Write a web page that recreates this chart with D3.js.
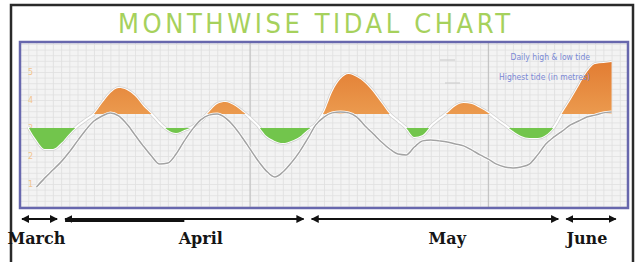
<!DOCTYPE html>
<html>
<head>
<meta charset="utf-8">
<script src="https://d3js.org/d3.v7.min.js"></script>
<style>
  body { margin: 0; background: #fff; }
  svg { display: block; }
</style>
</head>
<body>
<div id="chart"></div>
<script>
const chartTitle = "MONTHWISE TIDAL CHART";

// daily tide level (m), first value is 28 March
const levelStart = "2009-03-28";
const levels = [
  3.04, 2.57, 2.25, 2.25, 2.46, 2.79, 3.07, 3.29, 3.50, 3.89,
  4.25, 4.43, 4.36, 4.14, 3.79, 3.50, 3.18, 2.93, 2.82, 2.93,
  3.04, 3.25, 3.57, 3.86, 3.93, 3.82, 3.61, 3.36, 3.07, 2.71,
  2.54, 2.46, 2.54, 2.68, 2.93, 3.14, 3.57, 4.29, 4.75, 4.93,
  4.82, 4.61, 4.29, 3.89, 3.50, 3.25, 3.00, 2.68, 2.75, 3.07,
  3.32, 3.54, 3.79, 3.89, 3.86, 3.71, 3.54, 3.32, 3.11, 2.89,
  2.71, 2.64, 2.64, 2.75, 3.04, 3.54, 4.00, 4.50, 5.00, 5.29,
  5.32, 5.36
];

// grey curve, first value is 29 March
const predStart = "2009-03-29";
const predicted = [
  0.89, 1.21, 1.50, 1.79, 2.14, 2.54, 2.93, 3.25, 3.43, 3.54,
  3.43, 3.14, 2.75, 2.36, 2.00, 1.71, 1.75, 2.07, 2.54, 2.96,
  3.29, 3.46, 3.50, 3.36, 3.07, 2.68, 2.25, 1.82, 1.46, 1.25,
  1.43, 1.75, 2.14, 2.61, 3.11, 3.39, 3.54, 3.57, 3.54, 3.39,
  3.07, 2.79, 2.50, 2.25, 2.07, 2.04, 2.32, 2.54, 2.57, 2.54,
  2.50, 2.43, 2.36, 2.21, 2.04, 1.89, 1.71, 1.61, 1.57, 1.61,
  1.71, 2.04, 2.43, 2.68, 2.89, 3.11, 3.25, 3.39, 3.46, 3.54,
  3.57
];

const highMark = 3.5;
const lowMark = 3.0;
const yTicks = [1, 2, 3, 4, 5];

const months = ["March", "April", "May", "June"];
const monthStarts = ["2009-03-27", "2009-04-01", "2009-05-01", "2009-06-01"];
const monthEnds = ["2009-04-01", "2009-05-01", "2009-06-01", "2009-06-08"];
const monthLabelDays = ["2009-03-29", "2009-04-18", "2009-05-18", "2009-06-04"];
const boldRange = ["2009-04-01", "2009-04-16"];
const markerDays = ["2009-04-24", "2009-05-23"];
const legendLabels = ["Daily high & low tide", "Highest tide (in metres)"];

const width = 638, height = 262;
const plot = { left: 20, top: 42, right: 628, bottom: 208 };
const parse = d3.timeParse("%Y-%m-%d");

const svg = d3.select("#chart").append("svg")
  .attr("width", width)
  .attr("height", height);

const defs = svg.append("defs");

// outer frame
svg.append("rect")
  .attr("x", 11).attr("y", 5)
  .attr("width", 622).attr("height", 270)
  .attr("fill", "#fff")
  .attr("stroke", "#2a2a2a")
  .attr("stroke-width", 2.5);

// title
svg.append("text")
  .attr("x", 314).attr("y", 33)
  .attr("text-anchor", "middle")
  .attr("textLength", 392)
  .attr("lengthAdjust", "spacing")
  .style("font-family", "'DejaVu Sans Condensed', 'DejaVu Sans', sans-serif")
  .style("font-stretch", "condensed")
  .style("font-size", "27px")
  .style("fill", "#a6d15c")
  .text(chartTitle);

const x = d3.scaleTime()
  .domain([parse("2009-03-27"), parse("2009-06-09")])
  .range([plot.left, plot.right]);

const y = d3.scaleLinear()
  .domain([0, 6])
  .range([212, 44]);

const levelData = levels.map((v, i) => ({ date: d3.timeDay.offset(parse(levelStart), i), v }));
const predData = predicted.map((v, i) => ({ date: d3.timeDay.offset(parse(predStart), i), v }));

// plot background
svg.append("rect")
  .attr("x", plot.left).attr("y", plot.top)
  .attr("width", plot.right - plot.left).attr("height", plot.bottom - plot.top)
  .attr("fill", "#f3f3f3");

defs.append("clipPath").attr("id", "plotClip")
  .append("rect")
  .attr("x", plot.left).attr("y", plot.top)
  .attr("width", plot.right - plot.left).attr("height", plot.bottom - plot.top);

defs.append("clipPath").attr("id", "aboveClip")
  .append("rect")
  .attr("x", plot.left).attr("y", plot.top)
  .attr("width", plot.right - plot.left).attr("height", y(highMark) - plot.top);

defs.append("clipPath").attr("id", "belowClip")
  .append("rect")
  .attr("x", plot.left).attr("y", y(lowMark))
  .attr("width", plot.right - plot.left).attr("height", plot.bottom - y(lowMark));

const grad = defs.append("linearGradient")
  .attr("id", "orangeGrad")
  .attr("gradientUnits", "userSpaceOnUse")
  .attr("x1", 0).attr("y1", y(5.4)).attr("x2", 0).attr("y2", y(highMark));
grad.append("stop").attr("offset", "0%").attr("stop-color", "#e27c32");
grad.append("stop").attr("offset", "100%").attr("stop-color", "#eb9a4e");

// grid
const grid = svg.append("g").attr("clip-path", "url(#plotClip)");

grid.append("g")
  .attr("transform", `translate(0,${plot.bottom})`)
  .call(d3.axisBottom(x).ticks(d3.timeDay.every(1)).tickSize(-(plot.bottom - plot.top)).tickFormat(""))
  .call(g => g.select(".domain").remove())
  .call(g => g.selectAll("line").attr("stroke", "#dedede").attr("stroke-width", 0.8));

grid.append("g")
  .attr("transform", `translate(${plot.left},0)`)
  .call(d3.axisLeft(y).ticks(24).tickSize(-(plot.right - plot.left)).tickFormat(""))
  .call(g => g.select(".domain").remove())
  .call(g => g.selectAll("line").attr("stroke", "#e0e0e0").attr("stroke-width", 0.8));

grid.selectAll(".marker")
  .data(markerDays)
  .enter().append("line")
  .attr("class", "marker")
  .attr("x1", d => x(parse(d))).attr("x2", d => x(parse(d)))
  .attr("y1", plot.top).attr("y2", plot.bottom)
  .attr("stroke", "#bdbdbd")
  .attr("stroke-width", 1);

// faint y labels
svg.append("g")
  .attr("transform", `translate(36,0)`)
  .call(d3.axisLeft(y).tickValues(yTicks).tickSize(0).tickFormat(d3.format("d")))
  .call(g => g.select(".domain").remove())
  .call(g => g.selectAll("text")
    .style("font-family", "'DejaVu Sans', sans-serif")
    .style("font-size", "8px")
    .attr("fill", "#f2c48c"));

const curveLine = d3.line()
  .x(d => x(d.date))
  .y(d => y(d.v))
  .curve(d3.curveMonotoneX);

const layer = svg.append("g").attr("clip-path", "url(#plotClip)");

// pale level curve under the fills
layer.append("path")
  .datum(levelData)
  .attr("d", curveLine)
  .attr("fill", "none")
  .attr("stroke", "#d2d2d2")
  .attr("stroke-width", 3.5);
layer.append("path")
  .datum(levelData)
  .attr("d", curveLine)
  .attr("fill", "none")
  .attr("stroke", "#ffffff")
  .attr("stroke-width", 2);

// orange above the high mark
layer.append("g").attr("clip-path", "url(#aboveClip)")
  .append("path")
  .datum(levelData)
  .attr("d", d3.area()
    .x(d => x(d.date))
    .y0(y(highMark))
    .y1(d => y(d.v))
    .curve(d3.curveMonotoneX))
  .attr("fill", "url(#orangeGrad)");

// green below the low mark
layer.append("g").attr("clip-path", "url(#belowClip)")
  .append("path")
  .datum(levelData)
  .attr("d", d3.area()
    .x(d => x(d.date))
    .y0(y(lowMark))
    .y1(d => y(d.v))
    .curve(d3.curveMonotoneX))
  .attr("fill", "#72c54c");

// grey curve
layer.append("path")
  .datum(predData)
  .attr("d", curveLine)
  .attr("fill", "none")
  .attr("stroke", "#ffffff")
  .attr("stroke-width", 3);
layer.append("path")
  .datum(predData)
  .attr("d", curveLine)
  .attr("fill", "none")
  .attr("stroke", "#a3a3a3")
  .attr("stroke-width", 1.5);

// legend
const legend = svg.append("g");
legend.selectAll("text")
  .data(legendLabels)
  .enter().append("text")
  .attr("x", 590)
  .attr("y", (d, i) => 60 + i * 20)
  .attr("text-anchor", "end")
  .style("font-family", "'DejaVu Sans Condensed', 'DejaVu Sans', sans-serif")
  .style("font-size", "8.5px")
  .attr("fill", "#7a88d4")
  .text(d => d);
legend.selectAll("line")
  .data(legendLabels)
  .enter().append("line")
  .attr("x1", (d, i) => 440 + i * 5).attr("x2", (d, i) => 455 + i * 5)
  .attr("y1", (d, i) => 60 + i * 23).attr("y2", (d, i) => 60 + i * 23)
  .attr("stroke", "#cfcfcf")
  .attr("stroke-width", 1.2);

// plot border
svg.append("rect")
  .attr("x", plot.left).attr("y", plot.top)
  .attr("width", plot.right - plot.left).attr("height", plot.bottom - plot.top)
  .attr("fill", "none")
  .attr("stroke", "#6767ad")
  .attr("stroke-width", 2.5);

// month timeline
const tlY = 219;
defs.append("marker").attr("id", "arrEnd")
  .attr("viewBox", "0 0 10 10").attr("refX", 9).attr("refY", 5)
  .attr("markerWidth", 4).attr("markerHeight", 4).attr("orient", "auto")
  .append("path").attr("d", "M0,0L10,5L0,10Z").attr("fill", "#111");
defs.append("marker").attr("id", "arrStart")
  .attr("viewBox", "0 0 10 10").attr("refX", 1).attr("refY", 5)
  .attr("markerWidth", 4).attr("markerHeight", 4).attr("orient", "auto")
  .append("path").attr("d", "M10,0L0,5L10,10Z").attr("fill", "#111");

svg.selectAll(".seg")
  .data(months)
  .enter().append("line")
  .attr("class", "seg")
  .attr("x1", (d, i) => i === 0 ? plot.left + 2 : x(parse(monthStarts[i])) + 4)
  .attr("x2", (d, i) => x(parse(monthEnds[i])) - 4)
  .attr("y1", tlY).attr("y2", tlY)
  .attr("stroke", "#111")
  .attr("stroke-width", 2)
  .attr("marker-start", "url(#arrStart)")
  .attr("marker-end", "url(#arrEnd)");

svg.append("line")
  .attr("x1", x(parse(boldRange[0])) + 4)
  .attr("x2", x(parse(boldRange[1])))
  .attr("y1", tlY + 1).attr("y2", tlY + 1)
  .attr("stroke", "#111")
  .attr("stroke-width", 4);

svg.selectAll(".month")
  .data(months)
  .enter().append("text")
  .attr("class", "month")
  .attr("x", (d, i) => x(parse(monthLabelDays[i])))
  .attr("y", 244)
  .attr("text-anchor", "middle")
  .style("font-family", "'DejaVu Serif', serif")
  .style("font-weight", "bold")
  .style("font-size", "16px")
  .attr("fill", "#151515")
  .text(d => d);
</script>
</body>
</html>
